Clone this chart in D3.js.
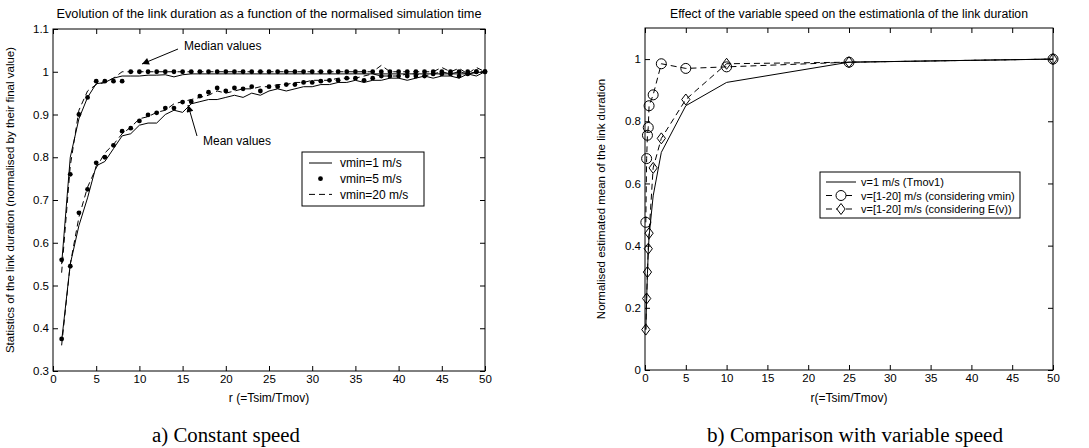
<!DOCTYPE html>
<html>
<head>
<meta charset="utf-8">
<script src="https://cdn.jsdelivr.net/npm/d3@7"></script>
<style>
  body { margin: 0; background: #ffffff; }
  svg { display: block; font-family: Arial, "Liberation Sans", sans-serif; }
</style>
</head>
<body>
<svg id="fig" width="1089" height="448"></svg>
<script>
// ---- panel a) : constant speed ----
const rSim = [1,2,3,4,5,6,7,8,9,10,11,12,13,14,15,16,17,18,19,20,21,22,23,24,25,
  26,27,28,29,30,31,32,33,34,35,36,37,38,39,40,41,42,43,44,45,46,47,48,49,50];

const medianV1 = [0.55,0.80,0.89,0.94,0.972,0.975,0.985,0.99,0.99,0.99,0.992,0.992,0.993,0.988,0.993,
  0.995,0.995,0.995,0.995,0.995,0.995,0.995,0.995,0.995,0.995,0.995,0.995,0.995,0.995,0.995,
  0.995,0.995,0.995,0.995,0.995,0.995,0.995,0.995,0.995,0.995,0.995,0.995,0.995,0.995,0.995,
  0.995,0.995,0.995,0.998,1.0];
const medianV5 = [0.56,0.76,0.90,0.94,0.978,0.978,0.978,0.978,1.0,1.0,1.0,1.0,1.0,1.0,1.0,
  1.0,1.0,1.0,1.0,1.0,1.0,1.0,1.0,1.0,1.0,1.0,1.0,1.0,1.0,1.0,
  1.0,1.0,1.0,1.0,1.0,1.0,1.0,1.0,1.0,1.0,1.0,1.0,1.0,1.0,1.0,
  1.0,1.0,1.0,1.0,1.0];
const medianV20 = [0.53,0.78,0.91,0.955,0.97,0.975,0.985,1.0,1.0,1.0,1.0,1.0,1.0,1.0,1.0,
  1.0,1.0,1.0,1.0,1.0,1.0,1.0,1.0,1.0,1.0,1.0,1.0,1.0,1.0,1.0,
  1.0,1.0,1.0,1.0,1.0,1.0,1.0,1.015,1.0,1.0,1.0,1.0,1.0,1.0,1.01,
  1.0,1.008,0.995,1.01,1.0];

const meanV1 = [0.37,0.55,0.64,0.705,0.78,0.79,0.82,0.85,0.855,0.875,0.88,0.88,0.90,0.91,0.905,
  0.925,0.93,0.935,0.935,0.94,0.945,0.94,0.95,0.945,0.955,0.96,0.955,0.96,0.965,0.965,
  0.97,0.97,0.975,0.975,0.98,0.975,0.98,0.98,0.985,0.985,0.98,0.985,0.99,0.985,0.99,
  0.99,0.985,0.995,0.99,1.0];
const meanV5 = [0.375,0.545,0.67,0.725,0.787,0.80,0.828,0.861,0.868,0.885,0.899,0.904,0.915,0.915,0.929,
  0.93,0.943,0.952,0.962,0.955,0.962,0.96,0.965,0.955,0.965,0.965,0.97,0.97,0.975,0.975,
  0.978,0.98,0.98,0.985,0.985,0.98,0.985,0.99,0.99,0.99,0.99,0.99,0.99,0.995,0.995,
  0.995,0.99,0.995,1.0,1.0];
const meanV20 = [0.36,0.55,0.66,0.73,0.775,0.81,0.83,0.855,0.87,0.89,0.895,0.905,0.91,0.925,0.93,
  0.935,0.94,0.945,0.955,0.95,0.955,0.96,0.96,0.965,0.965,0.97,0.97,0.975,0.975,0.98,
  0.98,0.98,0.985,0.985,0.985,0.99,0.995,0.99,0.99,0.99,0.995,0.995,0.99,0.995,1.0,
  0.995,1.0,0.995,1.0,1.0];

const xTicksA = [0,5,10,15,20,25,30,35,40,45,50];
const yTicksA = [0.3,0.4,0.5,0.6,0.7,0.8,0.9,1.0,1.1];
const legendA = ['vmin=1 m/s', 'vmin=5 m/s', 'vmin=20 m/s'];

// ---- panel b) : variable speed ----
const rRatio = [0.1,0.2,0.3,0.4,0.5,1,2,5,10,25,50];
const estTmov1 = [0.13,0.23,0.31,0.38,0.43,0.56,0.70,0.85,0.925,0.99,1.0];
const estVmin  = [0.475,0.68,0.755,0.78,0.85,0.885,0.985,0.97,0.975,0.99,1.0];
const estEv    = [0.13,0.23,0.315,0.39,0.44,0.65,0.745,0.87,0.985,0.99,1.0];

const xTicksB = [0,5,10,15,20,25,30,35,40,45,50];
const yTicksB = [0,0.2,0.4,0.6,0.8,1];
const legendB = ['v=1 m/s (Tmov1)', 'v=[1-20] m/s (considering vmin)', 'v=[1-20] m/s (considering E(v))'];

const svg = d3.select('#fig');

// arrow head used by the annotations
svg.append('defs').append('marker')
  .attr('id', 'arrow')
  .attr('viewBox', '0 0 10 10')
  .attr('refX', 10).attr('refY', 5)
  .attr('markerWidth', 10).attr('markerHeight', 7)
  .attr('markerUnits', 'userSpaceOnUse')
  .attr('orient', 'auto')
  .append('path').attr('d', 'M0,0 L10,5 L0,10 z').attr('fill', '#000');

function makePanel(box, xDomain, yDomain, xTicks, yTicks, yFmt) {
  const x = d3.scaleLinear().domain(xDomain).range([box.left, box.right]);
  const y = d3.scaleLinear().domain(yDomain).range([box.bottom, box.top]);
  const g = svg.append('g');

  const axes = [
    [d3.axisBottom(x).tickValues(xTicks).tickFormat(d3.format('d')), `translate(0,${box.bottom})`],
    [d3.axisTop(x).tickValues(xTicks).tickFormat(''), `translate(0,${box.top})`],
    [d3.axisLeft(y).tickValues(yTicks).tickFormat(yFmt), `translate(${box.left},0)`],
    [d3.axisRight(y).tickValues(yTicks).tickFormat(''), `translate(${box.right},0)`]
  ];
  axes.forEach(([ax, tr]) => {
    g.append('g')
      .attr('transform', tr)
      .call(ax.tickSize(-5).tickPadding(4))
      .call(s => s.select('.domain').remove())
      .call(s => s.selectAll('text').attr('font-size', 11.5).attr('fill', '#000')
        .attr('font-family', 'Arial, "Liberation Sans", sans-serif'))
      .call(s => s.selectAll('line').attr('stroke', '#000'));
  });

  g.append('rect')
    .attr('x', box.left).attr('y', box.top)
    .attr('width', box.right - box.left).attr('height', box.bottom - box.top)
    .attr('fill', 'none').attr('stroke', '#000').attr('stroke-width', 1);

  return {g, x, y};
}

function addTexts(box, title, titleW, xLabel, yLabel, yLabelX) {
  const cx = (box.left + box.right) / 2;
  svg.append('text')
    .attr('x', cx).attr('y', 18)
    .attr('text-anchor', 'middle').attr('font-size', 12)
    .attr('textLength', titleW).attr('lengthAdjust', 'spacingAndGlyphs')
    .text(title);
  svg.append('text')
    .attr('x', cx).attr('y', 402)
    .attr('text-anchor', 'middle').attr('font-size', 12)
    .text(xLabel);
  svg.append('text')
    .attr('transform', `translate(${yLabelX}, ${(box.top + box.bottom) / 2}) rotate(-90)`)
    .attr('text-anchor', 'middle').attr('font-size', 11.5)
    .text(yLabel);
}

// ============ panel a ============
const boxA = {left: 53, right: 485, top: 29, bottom: 371};
const A = makePanel(boxA, [0, 50], [0.3, 1.1], xTicksA, yTicksA, d3.format('~g'));
addTexts(boxA, 'Evolution of the link duration as a function of the normalised simulation time', 425,
  'r (=Tsim/Tmov)', 'Statistics of the link duration (normalised by their final value)', 14);

const lineA = d3.line().x((d, i) => A.x(rSim[i])).y(d => A.y(d));

[medianV1, meanV1].forEach(s => {
  A.g.append('path').attr('d', lineA(s))
    .attr('fill', 'none').attr('stroke', '#000').attr('stroke-width', 1);
});
[medianV20, meanV20].forEach(s => {
  A.g.append('path').attr('d', lineA(s))
    .attr('fill', 'none').attr('stroke', '#000').attr('stroke-width', 1)
    .attr('stroke-dasharray', '6,4');
});
[medianV5, meanV5].forEach(s => {
  A.g.selectAll(null).data(s).enter().append('circle')
    .attr('cx', (d, i) => A.x(rSim[i]))
    .attr('cy', d => A.y(d))
    .attr('r', 2.4).attr('fill', '#000');
});

// annotations
svg.append('line')
  .attr('x1', 178).attr('y1', 49).attr('x2', 142).attr('y2', 64)
  .attr('stroke', '#000').attr('marker-end', 'url(#arrow)');
svg.append('text').attr('x', 184).attr('y', 50).attr('font-size', 12).text('Median values');
svg.append('line')
  .attr('x1', 197).attr('y1', 136).attr('x2', 188).attr('y2', 105)
  .attr('stroke', '#000').attr('marker-end', 'url(#arrow)');
svg.append('text').attr('x', 203).attr('y', 145).attr('font-size', 12).text('Mean values');

// legend a
const legA = svg.append('g').attr('transform', 'translate(302,152)');
legA.append('rect').attr('width', 122).attr('height', 54)
  .attr('fill', '#fff').attr('stroke', '#000');
legendA.forEach((t, i) => {
  const yy = 11 + i * 15.7;
  if (i === 0) {
    legA.append('line').attr('x1', 7).attr('x2', 30).attr('y1', yy).attr('y2', yy).attr('stroke', '#000');
  } else if (i === 1) {
    legA.append('circle').attr('cx', 18.5).attr('cy', yy).attr('r', 2.4).attr('fill', '#000');
  } else {
    legA.append('line').attr('x1', 7).attr('x2', 30).attr('y1', yy).attr('y2', yy)
      .attr('stroke', '#000').attr('stroke-dasharray', '6,4');
  }
  legA.append('text').attr('x', 38).attr('y', yy + 4.2).attr('font-size', 12).text(t);
});

// ============ panel b ============
const boxB = {left: 645, right: 1053, top: 28, bottom: 370};
const B = makePanel(boxB, [0, 50], [0, 1.1], xTicksB, yTicksB, d3.format('~g'));
addTexts(boxB, 'Effect of the variable speed on the estimationla of the link duration', 358,
  'r(=Tsim/Tmov)', 'Normalised estimated mean of the link duration', 605);

const lineB = d3.line().x((d, i) => B.x(rRatio[i])).y(d => B.y(d));

B.g.append('path').attr('d', lineB(estTmov1))
  .attr('fill', 'none').attr('stroke', '#000');
[estVmin, estEv].forEach(s => {
  B.g.append('path').attr('d', lineB(s))
    .attr('fill', 'none').attr('stroke', '#000').attr('stroke-dasharray', '6,4');
});

const diamond = (cx, cy, r) => `M${cx},${cy - r}L${cx + r * 0.75},${cy}L${cx},${cy + r}L${cx - r * 0.75},${cy}Z`;

B.g.selectAll(null).data(estVmin).enter().append('circle')
  .attr('cx', (d, i) => B.x(rRatio[i]))
  .attr('cy', d => B.y(d))
  .attr('r', 5).attr('fill', 'none').attr('stroke', '#000');
B.g.selectAll(null).data(estEv).enter().append('path')
  .attr('d', (d, i) => diamond(B.x(rRatio[i]), B.y(d), 5.5))
  .attr('fill', 'none').attr('stroke', '#000');

// legend b
const legB = svg.append('g').attr('transform', 'translate(820,172)');
legB.append('rect').attr('width', 200).attr('height', 46)
  .attr('fill', '#fff').attr('stroke', '#000');
legendB.forEach((t, i) => {
  const yy = 10 + i * 13.5;
  legB.append('line').attr('x1', 6).attr('x2', 36).attr('y1', yy).attr('y2', yy)
    .attr('stroke', '#000').attr('stroke-dasharray', i === 0 ? null : '6,4');
  if (i === 1) {
    legB.append('circle').attr('cx', 21).attr('cy', yy).attr('r', 5)
      .attr('fill', '#fff').attr('stroke', '#000');
  } else if (i === 2) {
    legB.append('path').attr('d', diamond(21, yy, 5.5))
      .attr('fill', '#fff').attr('stroke', '#000');
  }
  legB.append('text').attr('x', 41).attr('y', yy + 4).attr('font-size', 11).text(t);
});

// ---- captions ----
[['a) Constant speed', 226, 148], ['b) Comparison with variable speed', 855, 296]].forEach(([t, cx, w]) => {
  svg.append('text')
    .attr('x', cx).attr('y', 442)
    .attr('text-anchor', 'middle')
    .attr('font-family', '"Liberation Serif", "Times New Roman", serif')
    .attr('font-size', 20)
    .attr('textLength', w).attr('lengthAdjust', 'spacingAndGlyphs')
    .text(t);
});
</script>
</body>
</html>
